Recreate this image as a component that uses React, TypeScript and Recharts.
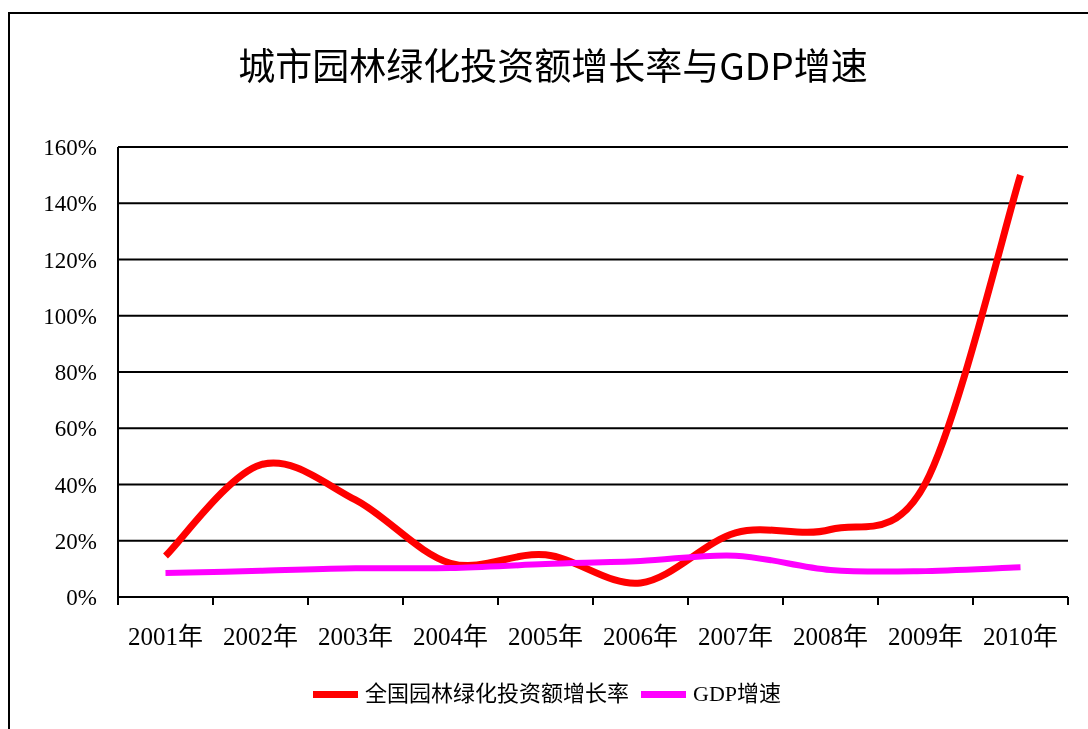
import React from "react";
import { LineChart, Line, XAxis, YAxis, CartesianGrid } from "recharts";

// categories and series
const years = ["2001年", "2002年", "2003年", "2004年", "2005年", "2006年", "2007年", "2008年", "2009年", "2010年"];
const greeningGrowth = [14.6, 47, 34.5, 12, 15, 5, 22.8, 24, 40.5, 150];
const gdpGrowth = [8.5, 9.3, 10.2, 10.3, 11.7, 12.8, 14.7, 9.6, 9.2, 10.6];
const yTicks = [0, 20, 40, 60, 80, 100, 120, 140, 160];

const series = [
  { key: "green", name: "全国园林绿化投资额增长率", color: "#ff0000", width: 7 },
  { key: "gdp", name: "GDP增速", color: "#ff00ff", width: 6 },
];

const data = years.map((y, i) => ({ year: y, green: greeningGrowth[i], gdp: gdpGrowth[i] }));

const SERIF = '"Liberation Serif", "Noto Sans CJK SC", serif';
const TICK_SIZE = 8;
const TICK_MARGIN = 22;

// Excel style smoothing (Catmull-Rom through the points)
const excelSmooth = (context: any) => {
  let pts: number[][] = [];
  return {
    areaStart() {},
    areaEnd() {},
    lineStart() {
      pts = [];
    },
    point(x: number, y: number) {
      pts.push([+x, +y]);
    },
    lineEnd() {
      const n = pts.length;
      if (!n) return;
      context.moveTo(pts[0][0], pts[0][1]);
      for (let i = 0; i < n - 1; i++) {
        const p0 = pts[i - 1] || pts[i];
        const p1 = pts[i];
        const p2 = pts[i + 1];
        const p3 = pts[i + 2] || pts[i + 1];
        context.bezierCurveTo(
          p1[0] + (p2[0] - p0[0]) / 6,
          p1[1] + (p2[1] - p0[1]) / 6,
          p2[0] - (p3[0] - p1[0]) / 6,
          p2[1] - (p3[1] - p1[1]) / 6,
          p2[0],
          p2[1]
        );
      }
    },
  };
};

// category label plus the Excel-like tick marks on the band edges
function YearTick(props: any) {
  const { x, y, payload, index } = props;
  const half = payload && payload.offset ? payload.offset : 47.5;
  const axisY = y - TICK_SIZE - TICK_MARGIN;
  const last = index === years.length - 1;
  return (
    <g>
      <line x1={x - half} x2={x - half} y1={axisY} y2={axisY + TICK_SIZE} stroke="#000" strokeWidth={2} />
      {last && <line x1={x + half} x2={x + half} y1={axisY} y2={axisY + TICK_SIZE} stroke="#000" strokeWidth={2} />}
      <text x={x} y={y} dy="0.71em" textAnchor="middle" fill="#000" fontSize={25} fontFamily={SERIF}>
        {payload.value}
      </text>
    </g>
  );
}

export default function App() {
  return (
    <div style={{ position: "relative", width: 1072, height: 713 }}>
      {/* chart frame, cut off on the right and bottom like the reference */}
      <div
        style={{
          position: "fixed",
          left: 8,
          top: 12,
          width: 1200,
          height: 900,
          borderLeft: "2px solid #000",
          borderTop: "2px solid #000",
          pointerEvents: "none",
        }}
      />
      <div
        style={{
          position: "absolute",
          left: 0,
          top: 37,
          width: 1090,
          textAlign: "center",
          fontFamily: '"Noto Sans CJK SC", serif',
          fontSize: 37,
          lineHeight: "39px",
          color: "#000",
        }}
      >
        城市园林绿化投资额增长率与GDP增速
      </div>

      <div style={{ position: "absolute", left: 0, top: 0 }}>
        <LineChart width={1072} height={713} data={data} margin={{ top: 139, right: 12, bottom: 64, left: 0 }}>
          <CartesianGrid vertical={false} stroke="#000" strokeWidth={2} />
          <XAxis
            dataKey="year"
            scale="band"
            height={60}
            axisLine={{ stroke: "#000", strokeWidth: 2 }}
            tickLine={false}
            tickSize={TICK_SIZE}
            tickMargin={TICK_MARGIN}
            interval={0}
            tick={<YearTick />}
          />
          <YAxis
            width={110}
            domain={[0, 160]}
            ticks={yTicks}
            tickFormatter={(v: number) => `${v}%`}
            axisLine={{ stroke: "#000", strokeWidth: 2 }}
            tickLine={false}
            tickSize={6}
            tickMargin={15}
            tick={{ fill: "#000", fontSize: 23, fontFamily: SERIF }}
          />
          {series.map((s) => (
            <Line
              key={s.key}
              dataKey={s.key}
              name={s.name}
              type={excelSmooth as any}
              stroke={s.color}
              strokeWidth={s.width}
              strokeLinecap="butt"
              dot={false}
              activeDot={false}
              isAnimationActive={false}
            />
          ))}
        </LineChart>
      </div>

      {/* legend */}
      <div
        style={{
          position: "absolute",
          left: 305,
          top: 673,
          display: "flex",
          alignItems: "center",
          fontFamily: SERIF,
          fontSize: 22,
          color: "#000",
          whiteSpace: "nowrap",
        }}
      >
        {series.map((s, i) => (
          <div key={s.key} style={{ display: "flex", alignItems: "center", marginRight: i === 0 ? 12 : 0 }}>
            <span style={{ display: "inline-block", width: 45, height: 7, background: s.color, marginRight: 7 }} />
            <span style={{ lineHeight: "26px" }}>{s.name}</span>
          </div>
        ))}
      </div>
    </div>
  );
}
